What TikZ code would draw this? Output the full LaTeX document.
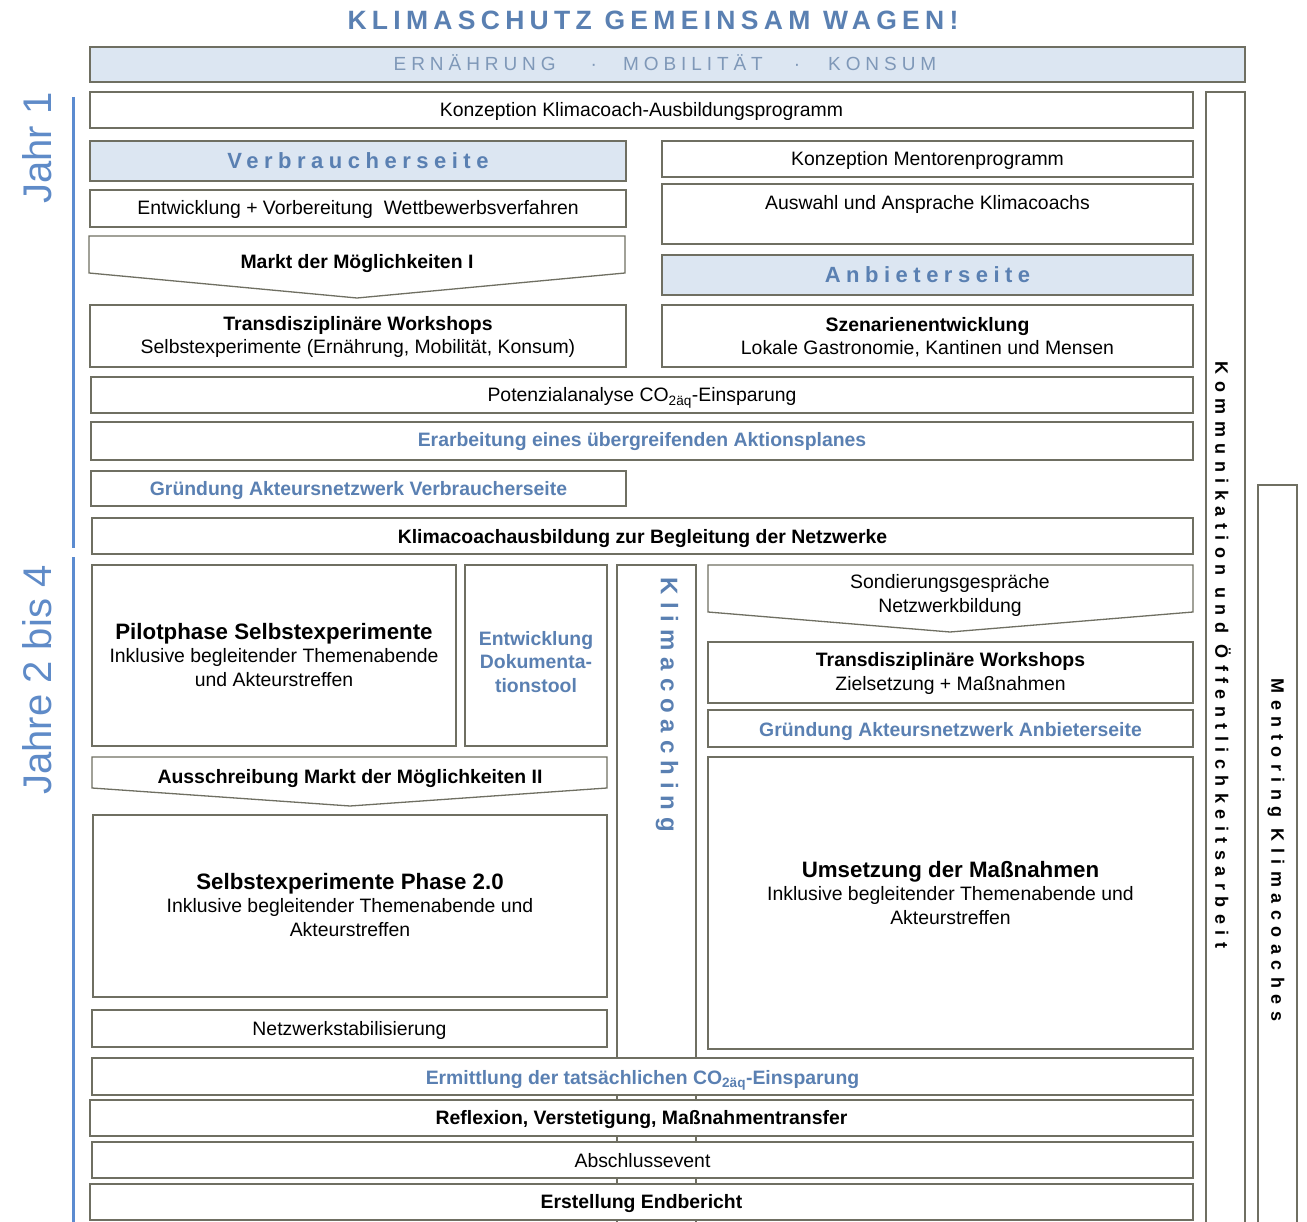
\documentclass[tikz,border=0pt]{standalone}
\usepackage{fontspec}
\setmainfont{Liberation Sans}
\newfontfamily\titlefont[LetterSpace=20]{Liberation Sans}
\newfontfamily\headfont[LetterSpace=26]{Liberation Sans}
\newfontfamily\sidefont[LetterSpace=25]{Liberation Sans}
\newfontfamily\vertfont[LetterSpace=36]{Liberation Sans}
\newfontfamily\kcfont[LetterSpace=29]{Liberation Sans}
\definecolor{bord}{HTML}{6F6F62}
\definecolor{lblue}{HTML}{DCE6F2}
\definecolor{tblue}{HTML}{5A80B2}
\definecolor{hblue}{HTML}{7F98B8}
\definecolor{yblue}{HTML}{5F8BC8}
\definecolor{lineblue}{HTML}{5B8BD0}
\newcommand\fsN{\fontsize{19.4}{23.5}\selectfont}
\newcommand\fsB{\fontsize{19.4}{23.5}\selectfont\bfseries}
\newcommand\fsL{\fontsize{22.3}{24}\selectfont\bfseries}
\newcommand\bx[9]{%
  \node[box,#6,minimum width={#4-#2},minimum height={#5-#3}] (#1) at ({(#2+#4)/2},{(#3+#5)/2}) {};
  \node[txt,#8] (#1-t) at ({(#2+#4)/2},#7) {#9};}
\begin{document}
\begin{tikzpicture}[x=1pt,y=-1pt,
  box/.style={draw=bord,line width=1.3pt,fill=white,inner sep=0pt,outer sep=0pt},
  bluebox/.style={fill=lblue},
  txt/.style={anchor=base,align=center,inner sep=0pt,font=\fsN},
  btxt/.style={font=\fsB},
  ltxt/.style={font=\fsB,text=tblue},
  side/.style={font=\fontsize{22}{24}\selectfont\sidefont\bfseries,text=tblue},
  chev/.style={draw=bord,line width=1.3pt,fill=white},
  yearline/.style={draw=lineblue,line width=3pt},
  yeartxt/.style={rotate=90,font=\fontsize{40}{40}\selectfont,text=yblue,inner sep=0pt},
  vtxt/.style={rotate=-90,font=\fontsize{18}{20}\selectfont\vertfont\bfseries,inner sep=0pt}]
\fill[white] (0,0) rectangle (1307,1222);
\useasboundingbox (0,0) rectangle (1307,1222);

% title and header
\node[font=\fontsize{26.5}{28}\selectfont\titlefont\bfseries,text=tblue,inner sep=0pt] (title) at (653,20) {KLIMASCHUTZ GEMEINSAM WAGEN!};
\node[box,bluebox,minimum width=1155,minimum height=35] (head) at (667.5,64.5) {};
\node[font=\fontsize{19}{20}\selectfont\headfont,text=hblue,anchor=base,inner sep=0pt] (head-t) at (665,71) {ERNÄHRUNG\hspace{35pt}·\hspace{26pt}MOBILITÄT\hspace{31pt}·\hspace{28pt}KONSUM};

% year markers
\coordinate (y1a) at (73,97); \coordinate (y1b) at (73,548);
\coordinate (y2a) at (73,557); \coordinate (y2b) at (73,1222);
\draw[yearline] (y1a) -- (y1b);
\draw[yearline] (y2a) -- (y2b);
\node[yeartxt] (jahr1) at (37,148) {Jahr 1};
\node[yeartxt] (jahr2) at (37,680) {Jahre 2 bis 4};

% long vertical boxes
\node[box,minimum width=39,minimum height=1140] (komm) at (1225.5,662) {};
\node[vtxt] (komm-t) at (1223,655) {Kommunikation und Öffentlichkeitsarbeit};
\node[box,minimum width=39,minimum height=747] (mentor) at (1277.5,858.5) {};
\node[vtxt] (mentor-t) at (1276,850) {Mentoring Klimacoaches};
\node[box,minimum width=79,minimum height=667] (klimac) at (656.5,898.5) {};
\node[rotate=-90,font=\fontsize{24}{26}\selectfont\kcfont\bfseries,text=tblue,inner sep=0pt] (klimac-t) at (667,705) {Klimacoaching};

% year 1
\bx{konz}{90}{92}{1193}{128}{}{117}{}{Konzeption Klimacoach-Ausbildungsprogramm}
\bx{verb}{90}{141}{626}{181}{bluebox}{169}{side}{Verbraucherseite}
\bx{ment}{662}{141}{1193}{177}{}{166}{}{Konzeption Mentorenprogramm}
\bx{entw}{90}{190}{626}{227}{}{215}{}{Entwicklung + Vorbereitung\ \ Wettbewerbsverfahren}
\bx{ausw}{662}{184}{1193}{244}{}{210}{}{Auswahl und Ansprache Klimacoachs}
\draw[chev] (89,236) -- (625,236) -- (625,273) -- (357,298) -- (89,273) -- cycle;
\node[txt,btxt] (markt) at (357,269) {Markt der Möglichkeiten I};
\bx{anb}{662}{255}{1193}{295}{bluebox}{283}{side}{Anbieterseite}
\bx{trans1}{90}{305}{626}{367}{}{354}{}{\fsB Transdisziplinäre Workshops\\\fsN Selbstexperimente (Ernährung, Mobilität, Konsum)}
\bx{szen}{662}{305}{1193}{367}{}{355}{}{\fsB Szenarienentwicklung\\\fsN Lokale Gastronomie, Kantinen und Mensen}
\bx{pot}{91}{377}{1193}{413}{}{402}{}{Potenzialanalyse CO\textsubscript{2äq}-Einsparung}
\bx{erarb}{91}{422}{1193}{460}{}{447}{ltxt}{Erarbeitung eines übergreifenden Aktionsplanes}
\bx{gruendV}{91}{471}{626}{506}{}{496}{ltxt}{Gründung Akteursnetzwerk Verbraucherseite}
\bx{kcausb}{92}{518}{1193}{554}{}{543}{btxt}{Klimacoachausbildung zur Begleitung der Netzwerke}

% years 2-4
\bx{pilot}{92}{565}{456}{746}{}{686}{}{\fsL Pilotphase Selbstexperimente\\\fsN Inklusive begleitender Themenabende\\\fsN und Akteurstreffen}
\bx{doku}{465}{565}{607}{746}{}{692}{ltxt}{Entwicklung\\Dokumenta-\\tionstool}
\draw[chev] (708,565) -- (1193,565) -- (1193,612) -- (950,632) -- (708,612) -- cycle;
\node[txt] (sond) at (950,612) {Sondierungsgespräche\\Netzwerkbildung};
\bx{trans2}{708}{642}{1193}{703}{}{690}{}{\fsB Transdisziplinäre Workshops\\\fsN Zielsetzung + Maßnahmen}
\bx{gruendA}{708}{710}{1193}{747}{}{736}{ltxt}{Gründung Akteursnetzwerk Anbieterseite}
\draw[chev] (92,757) -- (607,757) -- (607,788) -- (350,806) -- (92,788) -- cycle;
\node[txt,btxt] (aus) at (350,783) {Ausschreibung Markt der Möglichkeiten II};
\bx{selbst}{93}{815}{607}{997}{}{936}{}{\fsL Selbstexperimente Phase 2.0\\\fsN Inklusive begleitender Themenabende und\\\fsN Akteurstreffen}
\bx{umsetz}{708}{757}{1193}{1049}{}{924}{}{\fsL Umsetzung der Maßnahmen\\\fsN Inklusive begleitender Themenabende und\\\fsN Akteurstreffen}
\bx{netz}{92}{1010}{607}{1047}{}{1035}{}{Netzwerkstabilisierung}
\bx{ermitt}{92}{1058}{1193}{1095}{}{1084}{ltxt}{Ermittlung der tatsächlichen CO\textsubscript{2äq}-Einsparung}
\bx{refl}{90}{1100}{1193}{1136}{}{1124}{btxt}{Reflexion, Verstetigung, Maßnahmentransfer}
\bx{absch}{92}{1142}{1193}{1178}{}{1167}{}{Abschlussevent}
\bx{endb}{90}{1184}{1193}{1220}{}{1208}{btxt}{Erstellung Endbericht}
\end{tikzpicture}
\end{document}
